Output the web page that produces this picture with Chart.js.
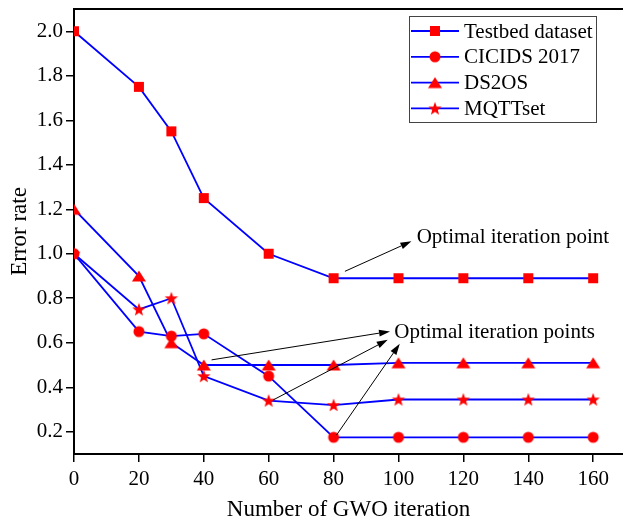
<!DOCTYPE html>
<html>
<head>
<meta charset="utf-8">
<script src="https://cdn.jsdelivr.net/npm/chart.js@4.4.1/dist/chart.umd.min.js"></script>
<style>
  html, body { margin: 0; padding: 0; background: #fff; }
  #wrap { width: 623px; height: 523px; }
</style>
</head>
<body>
<div id="wrap"><canvas id="errorChart" width="623" height="523"></canvas></div>
<script>
// values
var iterations = [0, 20, 30, 40, 60, 80, 100, 120, 140, 160];
var testbed = [2.0, 1.75, 1.55, 1.25, 1.0, 0.89, 0.89, 0.89, 0.89, 0.89];
var cicids = [1.0, 0.65, 0.63, 0.64, 0.45, 0.175, 0.175, 0.175, 0.175, 0.175];
var ds2os = [1.2, 0.9, 0.6, 0.5, 0.5, 0.5, 0.51, 0.51, 0.51, 0.51];
var mqtt = [1.0, 0.75, 0.8, 0.45, 0.34, 0.32, 0.345, 0.345, 0.345, 0.345];
var seriesNames = ['Testbed dataset', 'CICIDS 2017', 'DS2OS', 'MQTTset'];
var xTicks = [0, 20, 40, 60, 80, 100, 120, 140, 160];
var yTicks = [0.2, 0.4, 0.6, 0.8, 1.0, 1.2, 1.4, 1.6, 1.8, 2.0];

var serif = "'Liberation Serif', 'Times New Roman', serif";
var markRed = '#FF0000';
var lineBlue = '#0000FF';

// marker images (star is not built into Chart.js)
function makeMarker(kind) {
  var c = document.createElement('canvas');
  c.width = 16; c.height = 16;
  var g = c.getContext('2d');
  g.fillStyle = markRed;
  g.beginPath();
  if (kind === 'square') {
    g.rect(3, 3, 10, 10);
  } else if (kind === 'circle') {
    g.arc(8, 8, 5.5, 0, Math.PI * 2);
  } else if (kind === 'triangle') {
    g.moveTo(8, 2.5); g.lineTo(15, 13.5); g.lineTo(1, 13.5); g.closePath();
  } else {
    for (var i = 0; i < 10; i++) {
      var r = i % 2 === 0 ? 7 : 2.9;
      var a = -Math.PI / 2 + i * Math.PI / 5;
      var px = 8 + r * Math.cos(a), py = 8.5 + r * Math.sin(a);
      if (i === 0) g.moveTo(px, py); else g.lineTo(px, py);
    }
    g.closePath();
  }
  g.fill();
  return c;
}
var markers = [makeMarker('square'), makeMarker('circle'), makeMarker('triangle'), makeMarker('star')];

function toPoints(values) {
  return iterations.map(function (it, i) { return { x: it, y: values[i] }; });
}

var allSeries = [testbed, cicids, ds2os, mqtt];
var datasets = allSeries.map(function (vals, i) {
  return {
    label: seriesNames[i],
    data: toPoints(vals),
    borderColor: lineBlue,
    backgroundColor: markRed,
    borderWidth: 1.8,
    tension: 0,
    pointStyle: markers[i],
    pointRadius: 6,
    clip: { left: 0, top: false, right: false, bottom: false }
  };
});

// annotation anchors, in data units
var notes = [
  { text: 'Optimal iteration point', x: 105.6, y: 1.072 },
  { text: 'Optimal iteration points', x: 98.7, y: 0.646 }
];
var arrows = [
  { from: [83.5, 0.921], to: [104.0, 1.056] },
  { from: [42.4, 0.523], to: [97.4, 0.651] },
  { from: [61.4, 0.343], to: [96.7, 0.613] },
  { from: [80.9, 0.185], to: [100.4, 0.595] }
];

var extras = {
  id: 'extras',
  afterDraw: function (chart) {
    var ctx = chart.ctx, area = chart.chartArea;
    var xs = chart.scales.x, ys = chart.scales.y;
    ctx.save();
    // top frame line
    ctx.strokeStyle = '#000';
    ctx.lineWidth = 2;
    ctx.beginPath();
    ctx.moveTo(area.left - 1, area.top);
    ctx.lineTo(chart.width, area.top);
    ctx.stroke();

    // arrows
    ctx.strokeStyle = '#000';
    ctx.fillStyle = '#000';
    ctx.lineWidth = 1;
    arrows.forEach(function (a) {
      var x1 = xs.getPixelForValue(a.from[0]), y1 = ys.getPixelForValue(a.from[1]);
      var x2 = xs.getPixelForValue(a.to[0]), y2 = ys.getPixelForValue(a.to[1]);
      var ang = Math.atan2(y2 - y1, x2 - x1);
      var len = 11, half = 3.5;
      var bx = x2 - len * Math.cos(ang), by = y2 - len * Math.sin(ang);
      ctx.beginPath();
      ctx.moveTo(x1, y1);
      ctx.lineTo(bx, by);
      ctx.stroke();
      ctx.beginPath();
      ctx.moveTo(x2, y2);
      ctx.lineTo(bx + half * Math.sin(ang), by - half * Math.cos(ang));
      ctx.lineTo(bx - half * Math.sin(ang), by + half * Math.cos(ang));
      ctx.closePath();
      ctx.fill();
    });

    // annotation texts
    ctx.font = '21px ' + serif;
    ctx.textAlign = 'left';
    ctx.textBaseline = 'middle';
    notes.forEach(function (n) {
      ctx.fillText(n.text, xs.getPixelForValue(n.x), ys.getPixelForValue(n.y));
    });

    // legend box
    var lx = 409, ly = 16, lw = 187, lh = 106;
    ctx.fillStyle = '#fff';
    ctx.fillRect(lx, ly, lw, lh);
    ctx.strokeStyle = '#444';
    ctx.lineWidth = 1;
    ctx.strokeRect(lx + 0.5, ly + 0.5, lw, lh);
    ctx.font = '21px ' + serif;
    chart.data.datasets.forEach(function (ds, i) {
      var cy = ly + 15 + i * 25.8;
      ctx.strokeStyle = lineBlue;
      ctx.lineWidth = 1.8;
      ctx.beginPath();
      ctx.moveTo(lx + 2, cy);
      ctx.lineTo(lx + 50, cy);
      ctx.stroke();
      var m = ds.pointStyle;
      ctx.drawImage(m, lx + 26 - m.width / 2, cy - m.height / 2);
      ctx.fillStyle = '#000';
      ctx.fillText(ds.label, lx + 55, cy + 1);
    });
    ctx.restore();
  }
};

var ctx = document.getElementById('errorChart').getContext('2d');
var myChart = new Chart(ctx, {
  type: 'line',
  data: { datasets: datasets },
  options: {
    responsive: false,
    animation: false,
    layout: { autoPadding: false, padding: { top: 9, right: 0, left: 0, bottom: 0 } },
    plugins: {
      legend: { display: false },
      tooltip: { enabled: false }
    },
    scales: {
      x: {
        type: 'linear',
        min: 0,
        max: 169.2,
        afterBuildTicks: function (scale) {
          scale.ticks = xTicks.map(function (v) { return { value: v }; });
        },
        afterFit: function (scale) {
          scale.height = 69;
          scale.paddingLeft = 0;
          scale.paddingRight = 0;
        },
        grid: { display: true, drawOnChartArea: false, drawTicks: true, tickLength: 8, color: '#000', lineWidth: 1.5 },
        border: { display: true, color: '#000', width: 2 },
        ticks: { color: '#000', font: { family: serif, size: 21 }, padding: 5, maxRotation: 0 },
        title: {
          display: true,
          text: 'Number of GWO iteration',
          color: '#000',
          font: { family: serif, size: 23, lineHeight: 1 },
          padding: { top: 0, bottom: 2 }
        }
      },
      y: {
        type: 'linear',
        min: 0.1,
        max: 2.1,
        afterBuildTicks: function (scale) {
          scale.ticks = yTicks.map(function (v) { return { value: v }; });
        },
        afterFit: function (scale) {
          scale.width = 74;
          scale.paddingTop = 0;
          scale.paddingBottom = 0;
        },
        grid: { display: true, drawOnChartArea: false, drawTicks: true, tickLength: 8, color: '#000', lineWidth: 1.5 },
        border: { display: true, color: '#000', width: 2 },
        ticks: {
          color: '#000',
          font: { family: serif, size: 21 },
          padding: 3,
          callback: function (v) { return Number(v).toFixed(1); }
        },
        title: {
          display: true,
          text: 'Error rate',
          color: '#000',
          font: { family: serif, size: 23, lineHeight: 1 },
          padding: { top: 8, bottom: 0 }
        }
      }
    }
  },
  plugins: [extras]
});
</script>
</body>
</html>
